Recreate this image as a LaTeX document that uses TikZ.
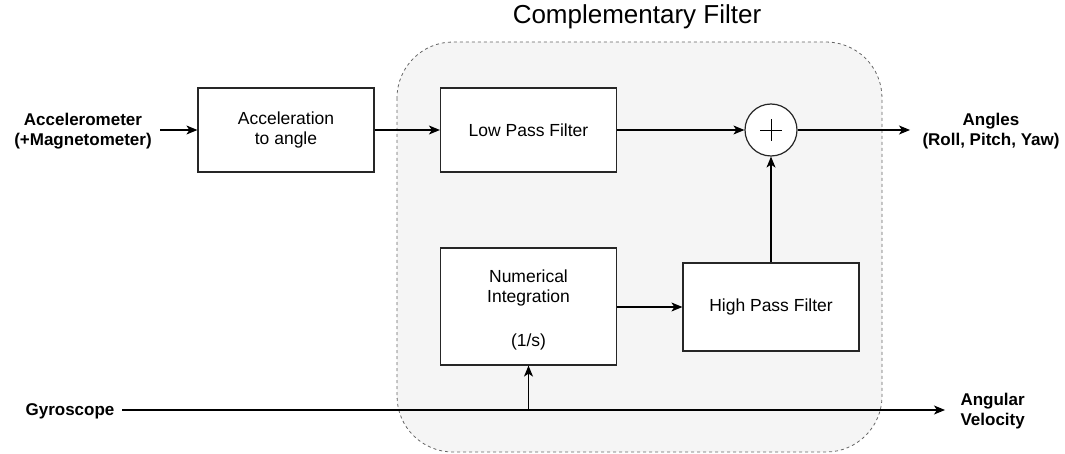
\documentclass[tikz,border=0pt]{standalone}
\usepackage{fontspec}
\setmainfont{Liberation Sans}
\usetikzlibrary{arrows.meta,positioning}
\begin{document}
\begin{tikzpicture}[x=1pt,y=-1pt,
  blockbox/.style={draw=black!85,line width=1.2pt,fill=white,minimum width=176pt,align=center,font=\fontsize{17.5}{20}\selectfont},
  blocktext/.style={align=center,font=\fontsize{17.5}{20}\selectfont},
  iolabel/.style={align=center,font=\bfseries\fontsize{17}{20}\selectfont},
  flow/.style={line width=1.2pt,-{Stealth[length=11pt,width=9pt,inset=3pt]}}
]
\useasboundingbox (0,0) rectangle (1065,454);
% complementary filter enclosure
\draw[dashed,draw=black!60,fill=black!4,line width=0.8pt,rounded corners=56pt] (397,42) rectangle (882,452);
\node[font=\fontsize{26}{30}\selectfont] (title) at (637,17) {Complementary Filter};

% blocks
\node[blockbox,minimum height=84pt] (acc) at (286,130) {Acceleration\\to angle};
\node[blockbox,minimum height=84pt] (lpf) at (528.5,130) {Low Pass Filter};
\node[blockbox,minimum height=117pt] (ni) at (528.5,306.5) {};
\node[blocktext] (nitext) at (528.5,310) {Numerical\\Integration\\[24pt](1/s)};
\node[blockbox,minimum height=88pt] (hpf) at (771,307) {High Pass Filter};
\node[draw=black!85,line width=1.2pt,fill=white,circle,minimum size=52pt,inner sep=0pt] (sum) at (771,130) {};
\draw[line width=0.8pt] ([xshift=-11pt]sum.center) -- ([xshift=11pt]sum.center)
  ([yshift=-11pt]sum.center) -- ([yshift=11pt]sum.center);

% inputs and outputs
\node[iolabel] (accin) at (83,131) {Accelerometer\\(+Magnetometer)};
\node[iolabel] (angles) at (991,131) {Angles\\(Roll, Pitch, Yaw)};
\node[iolabel] (gyro) at (70,411) {Gyroscope};
\node[iolabel,align=left,anchor=west] (angvel) at (957,411) {Angular\\Velocity};
\coordinate (accstart) at (160,130);
\coordinate (angend) at (910,130);
\coordinate (gyrostart) at (122,410);
\coordinate (gyroend) at (945,410);
\coordinate (branch) at (528.5,410);

% connectors
\draw[flow] (accstart) -- (acc.west);
\draw[flow] (acc.east) -- (lpf.west);
\draw[flow] (lpf.east) -- (sum.west);
\draw[flow] (sum.east) -- (angend);
\draw[flow] (hpf.north) -- (sum.south);
\draw[flow] (ni.east |- hpf.west) -- (hpf.west);
\draw[flow] (gyrostart) -- (gyroend);
\draw[flow] (branch) -- (ni.south);
\end{tikzpicture}
\end{document}
